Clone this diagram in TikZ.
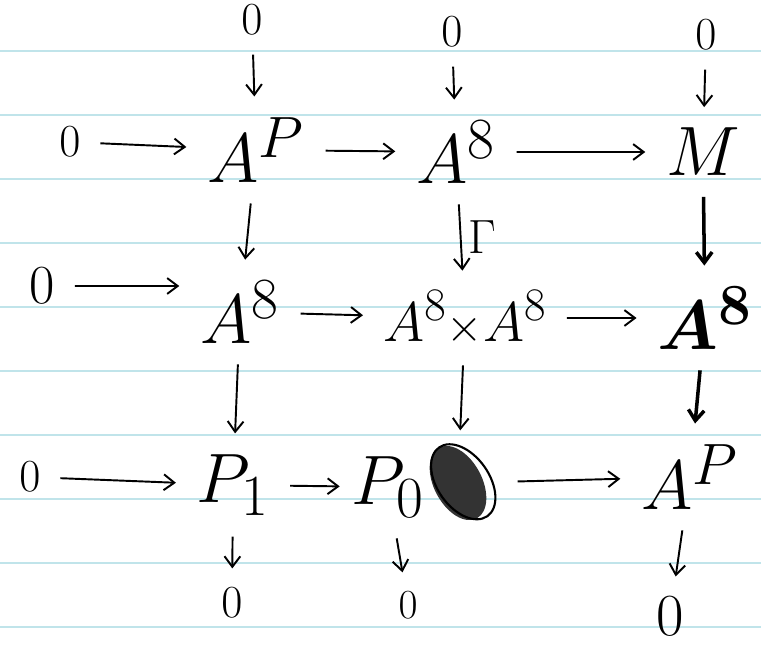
\documentclass[tikz,border=0pt]{standalone}
\usetikzlibrary{arrows.meta, positioning}
\definecolor{ruled}{RGB}{192,228,234}

\begin{document}
\begin{tikzpicture}[x=0.02cm, y=-0.02cm,
  obj/.style={font=\Huge, scale=1.6, inner sep=1pt},
  zero/.style={font=\Huge, scale=1.05, inner sep=1pt},
  arr/.style={line width=1.1pt, -{Straight Barb[length=6pt, width=9pt]}, shorten <=10pt, shorten >=10pt},
  heavy/.style={arr, line width=2pt}]
  \useasboundingbox (0,0) rectangle (761,646);

  % ruled paper
  \foreach \k in {0,...,9}
    \draw[ruled, line width=0.8pt] (0,{51+64*\k}) -- (761,{51+64*\k});

  % top zeros
  \node[zero] (t1) at (252,20) {$0$};
  \node[zero] (t2) at (452,32) {$0$};
  \node[zero] (t3) at (706,35) {$0$};

  % first row
  \node[zero] (r1) at (70,142) {$0$};
  \node[obj] (AP1) at (256,150) {$A^{P}$};
  \node[obj] (A81) at (456,152) {$A^{8}$};
  \node[obj] (M) at (703,152) {$M$};

  % second row
  \node[zero, scale=1.2] (r2) at (42,286) {$0$};
  \node[obj] (A82) at (240,312) {$A^{8}$};
  \node[obj, scale=0.8] (AxA) at (465,318) {$A^{8}{\scriptstyle\times}A^{8}$};
  \node[obj, font=\Huge\boldmath] (A83) at (705,318) {$A^{8}$};

  % third row
  \node[zero] (r3) at (30,477) {$0$};
  \node[obj] (P1) at (233,485) {$P_{1}$};
  \node[obj] (P0) at (388,487) {$P_{0}$};
  \coordinate (scr) at (458,483);
  \node[obj] (AP3) at (690,477) {$A^{P}$};

  % bottom zeros
  \node[zero] (b1) at (232,603) {$0$};
  \node[zero, scale=0.9] (b2) at (408,605) {$0$};
  \node[zero, scale=1.3] (b3) at (670,616) {$0$};

  % scribbled out
  \fill[black!80, rotate around={-62:(scr)}] (scr) ellipse (40 and 24);
  \draw[line width=1.2pt, rotate around={-55:(scr)}] (460,478) ellipse (42 and 26);

  % horizontal maps
  \draw[arr] (r1) -- (AP1);
  \draw[arr] (AP1) -- (A81);
  \draw[arr] (A81) -- (M);
  \draw[arr] (r2) -- (r2 -| A82.west);
  \draw[arr] (A82) -- (AxA);
  \draw[arr] (AxA) -- (A83);
  \draw[arr] (r3) -- (P1);
  \draw[arr, shorten >=5pt] (P1) -- (P0);
  \draw[arr, shorten <=34pt] (scr) -- (AP3);

  % vertical maps
  \draw[arr] (t1) -- (AP1);
  \draw[arr] (t2) -- (A81);
  \draw[arr] (t3) -- (M);
  \draw[arr] (AP1) -- (A82);
  \draw[arr] (A81) -- node[right, font=\Huge, scale=1.1] {$\Gamma$} (AxA);
  \draw[heavy] (M) -- (A83);
  \draw[arr] (A82) -- (P1);
  \draw[arr, shorten >=30pt] (AxA) -- (scr);
  \draw[heavy] (A83) -- (AP3);
  \draw[arr] (P1) -- (b1);
  \draw[arr] (P0) -- (b2);
  \draw[arr] (AP3) -- (b3);
\end{tikzpicture}
\end{document}
